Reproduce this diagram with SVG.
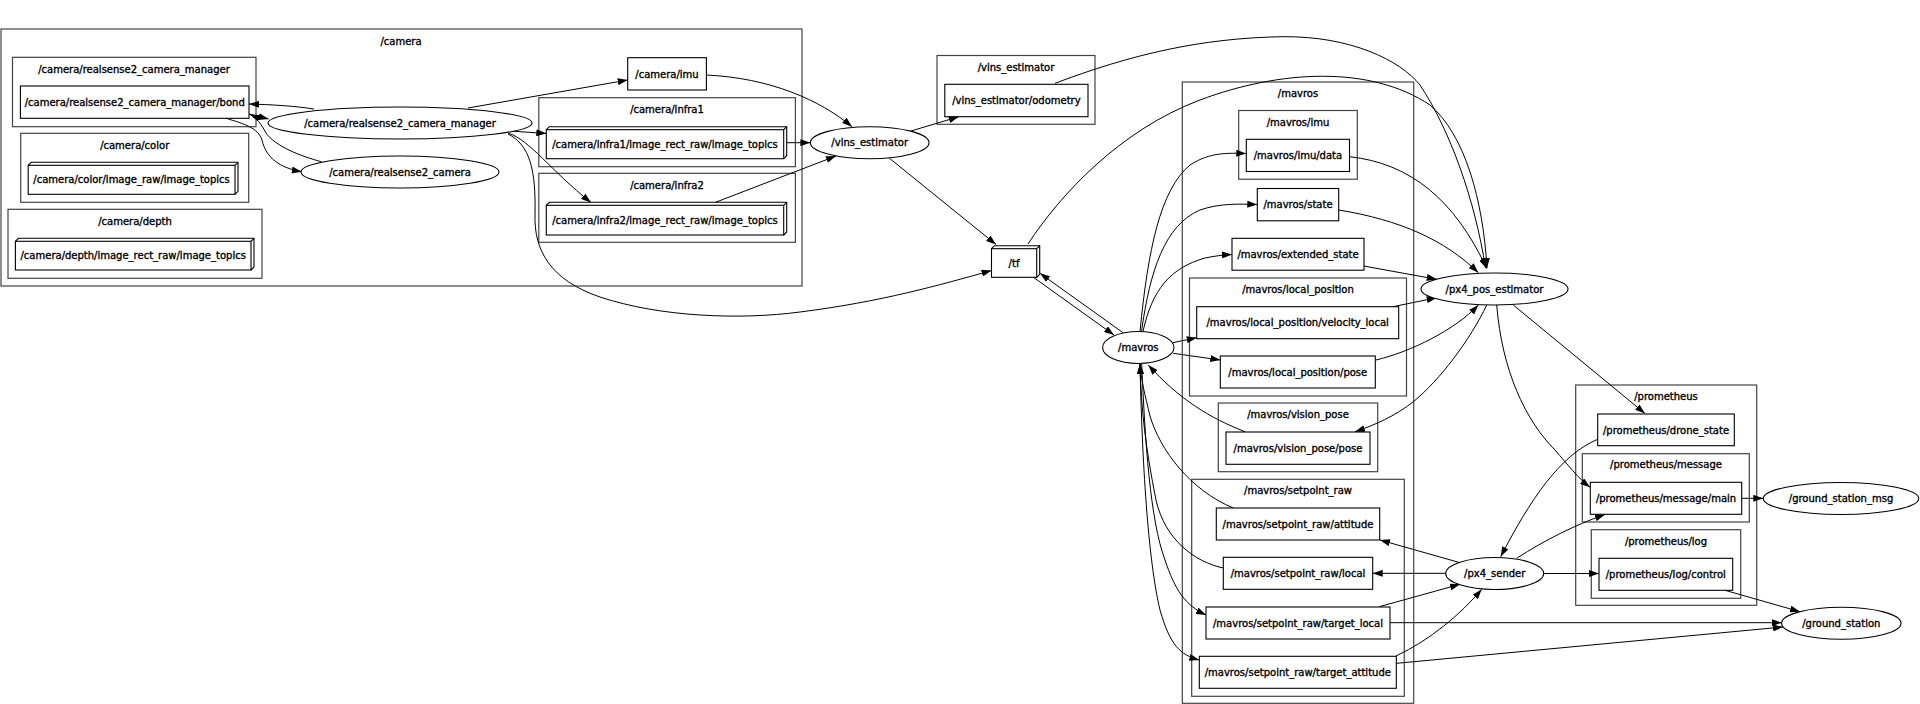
<svg xmlns="http://www.w3.org/2000/svg" width="1920" height="704" viewBox="0 0 1920 704">
<style>
.cl{fill:none;stroke:#444;stroke-width:1.2}
.nd{fill:#fff;stroke:#000;stroke-width:1.1}
.b3{fill:none;stroke:#000;stroke-width:1.1}
text{font-family:"DejaVu Sans",sans-serif;font-size:10px;text-anchor:middle;fill:#000;stroke:#000;stroke-width:0.35}
.e{fill:none;stroke:#000;stroke-width:1;marker-end:url(#a)}
</style>
<defs>
<marker id="a" markerUnits="userSpaceOnUse" markerWidth="10" markerHeight="7" refX="10" refY="3.5" orient="auto"><path d="M0,0 L10,3.5 L0,7 z" fill="#000"/></marker>
</defs>
<rect width="1920" height="704" fill="#fff"/>
<g id="clusters">
<g id="cl_camera"><rect class="cl" x="1" y="29" width="801" height="257"/><text x="401" y="44.5">/camera</text></g>
<g id="cl_manager"><rect class="cl" x="12.5" y="57.3" width="243.5" height="69.4"/><text x="134" y="72.5">/camera/realsense2_camera_manager</text></g>
<g id="cl_color"><rect class="cl" x="20.7" y="133.3" width="228" height="69"/><text x="134.7" y="148.5">/camera/color</text></g>
<g id="cl_depth"><rect class="cl" x="8" y="209.3" width="254" height="69"/><text x="135" y="224.5">/camera/depth</text></g>
<g id="cl_infra1"><rect class="cl" x="538.8" y="97.7" width="256.6" height="69"/><text x="667" y="113">/camera/infra1</text></g>
<g id="cl_infra2"><rect class="cl" x="538.8" y="173.3" width="256.6" height="69"/><text x="667" y="188.5">/camera/infra2</text></g>
<g id="cl_vins"><rect class="cl" x="937" y="55.5" width="158" height="68.8"/><text x="1016" y="70.5">/vins_estimator</text></g>
<g id="cl_mavros"><rect class="cl" x="1182.3" y="82" width="231.4" height="621.3"/><text x="1298" y="96.8">/mavros</text></g>
<g id="cl_mavros_imu"><rect class="cl" x="1238.7" y="110.5" width="118.6" height="68.7"/><text x="1298" y="125.5">/mavros/imu</text></g>
<g id="cl_local_position"><rect class="cl" x="1189.5" y="278" width="217" height="118"/><text x="1298" y="293">/mavros/local_position</text></g>
<g id="cl_vision_pose"><rect class="cl" x="1218.3" y="403" width="159.4" height="68.7"/><text x="1298" y="418">/mavros/vision_pose</text></g>
<g id="cl_setpoint_raw"><rect class="cl" x="1191.7" y="479.3" width="212.6" height="217"/><text x="1298" y="494">/mavros/setpoint_raw</text></g>
<g id="cl_prometheus"><rect class="cl" x="1575.7" y="385" width="181" height="220.3"/><text x="1666" y="400">/prometheus</text></g>
<g id="cl_message"><rect class="cl" x="1582.3" y="453.7" width="167" height="68.3"/><text x="1666" y="468">/prometheus/message</text></g>
<g id="cl_log"><rect class="cl" x="1591.3" y="529.7" width="149.4" height="68.6"/><text x="1666" y="544.5">/prometheus/log</text></g>
</g>
<g id="edges">
<path class="e" d="M314,109 C295,106 270,104.5 249,104"/>
<path class="e" d="M249,114 L268.6,119"/>
<path class="e" d="M321.4,161.7 C300,156 275,146 266,133 C262,125 256,117 250,114.5"/>
<path class="e" d="M225,118 C245,124 258,128 262,140 C266,158 280,168 301.8,171.7"/>
<path class="e" d="M468,108 L627.7,80"/>
<path class="e" d="M510,131 L546.3,133.5"/>
<path class="e" d="M508,133 C530,140 550,170 591,202.5"/>
<path class="e" d="M508,134 C530,145 536,170 535,215 C534,250 550,280 600,297 C660,317 740,320 800,312 C880,302 940,285 991.5,270.5"/>
<path class="e" d="M706.4,75 C770,78 820,100 852,126.7"/>
<path class="e" d="M786.7,142.7 L810.4,142.7"/>
<path class="e" d="M715.5,202.3 L836,156"/>
<path class="e" d="M911,131 L958.7,116.7"/>
<path class="e" d="M889.5,158.3 L996,244.5"/>
<path class="e" d="M1055,83.3 C1130,55 1200,38 1283,36.7 C1350,36 1400,60 1420,85 C1450,130 1475,200 1485.5,268"/>
<path class="e" d="M1028,244 C1060,195 1120,130 1200,100 C1280,70 1370,65 1430,105 C1465,135 1483,200 1487,268"/>
<path class="e" d="M1033,277 L1114,335"/>
<path class="e" d="M1123,332.7 L1040,273.3"/>
<path class="e" d="M1140,331.5 C1148,250 1160,190 1190,165 C1210,152 1228,153 1246.3,153.5"/>
<path class="e" d="M1141.5,331.5 C1150,270 1165,225 1200,210 C1220,203 1240,204 1257.3,204.5"/>
<path class="e" d="M1143,331.5 C1152,290 1170,268 1205,258 C1215,256 1222,255 1232,254.5"/>
<path class="e" d="M1172.7,342.7 L1196.7,337.7"/>
<path class="e" d="M1173.3,353.3 L1220.3,360"/>
<path class="e" d="M1245,431.7 C1210,418 1180,400 1148.3,365"/>
<path class="e" d="M1233.3,508 C1190,490 1160,450 1150,416 C1145,395 1141,380 1140,364"/>
<path class="e" d="M1223.3,568 C1195,562 1165,540 1156,500 C1146,450 1141,410 1140,364"/>
<path class="e" d="M1141.7,364 C1145,440 1150,520 1165,560 C1175,590 1185,605 1206,615"/>
<path class="e" d="M1140,364 C1142,460 1148,560 1160,610 C1170,645 1180,655 1199.3,660"/>
<path class="e" d="M1349.3,156.7 C1410,163 1455,200 1486.7,268.5"/>
<path class="e" d="M1338.7,210 C1400,220 1445,240 1478.3,272.7"/>
<path class="e" d="M1363.7,266 L1436.7,279.3"/>
<path class="e" d="M1393,306.7 L1436.7,297.7"/>
<path class="e" d="M1376,360 C1410,352 1455,330 1478.3,305"/>
<path class="e" d="M1486.7,305 C1470,340 1440,380 1413,402 C1395,416 1375,425 1355,431.7"/>
<path class="e" d="M1513.3,305 L1645,413.5"/>
<path class="e" d="M1496.7,305 C1502,370 1525,420 1555,450 C1568,465 1578,478 1590,487.3"/>
<path class="e" d="M1597.7,439.3 C1560,455 1530,500 1500.7,556.7"/>
<path class="e" d="M1516.7,558.3 C1545,540 1575,525 1605,514.5"/>
<path class="e" d="M1543.7,573.5 L1599,573.5"/>
<path class="e" d="M1460,562.7 L1380,540"/>
<path class="e" d="M1445.7,573.3 L1372.7,573.3"/>
<path class="e" d="M1379.3,606.7 L1460,584.3"/>
<path class="e" d="M1396,656 C1430,640 1460,615 1481.7,589.3"/>
<path class="e" d="M1390,622.7 L1781.7,622.7"/>
<path class="e" d="M1396.7,663.3 L1783,627"/>
<path class="e" d="M1725,590.3 L1800,611.7"/>
<path class="e" d="M1741.7,498.3 L1763.3,498.3"/>
</g>
<g id="nodes">
<g id="n_bond"><rect class="nd" x="20.4" y="86" width="228.6" height="32.3"/><text x="134.7" y="105.5">/camera/realsense2_camera_manager/bond</text></g>
<g id="n_color_topics"><rect class="nd" x="28.2" y="165.3" width="206.8" height="29"/><polyline class="b3" points="28.2,165.3 31.2,162.3 238,162.3 238,191.3 235,194.3"/><line class="b3" x1="235" y1="165.3" x2="238" y2="162.3"/><text x="131.6" y="183">/camera/color/image_raw/image_topics</text></g>
<g id="n_depth_topics"><rect class="nd" x="15.4" y="241.3" width="235.6" height="28.7"/><polyline class="b3" points="15.4,241.3 18.4,238.3 254,238.3 254,267 251,270"/><line class="b3" x1="251" y1="241.3" x2="254" y2="238.3"/><text x="133.2" y="258.8">/camera/depth/image_rect_raw/image_topics</text></g>
<g id="n_manager"><ellipse class="nd" cx="400" cy="123" rx="132" ry="16"/><text x="400" y="126.5">/camera/realsense2_camera_manager</text></g>
<g id="n_realsense2_camera"><ellipse class="nd" cx="400" cy="172" rx="99" ry="16"/><text x="400" y="175.5">/camera/realsense2_camera</text></g>
<g id="n_camera_imu"><rect class="nd" x="627.7" y="57.7" width="78.7" height="32.3"/><text x="667" y="77.5">/camera/imu</text></g>
<g id="n_infra1_topics"><rect class="nd" x="546.3" y="129.7" width="237.4" height="29"/><polyline class="b3" points="546.3,129.7 549.3,126.7 786.7,126.7 786.7,155.7 783.7,158.7"/><line class="b3" x1="783.7" y1="129.7" x2="786.7" y2="126.7"/><text x="665" y="147.5">/camera/infra1/image_rect_raw/image_topics</text></g>
<g id="n_infra2_topics"><rect class="nd" x="546.3" y="205.3" width="237.4" height="29.7"/><polyline class="b3" points="546.3,205.3 549.3,202.3 786.7,202.3 786.7,232 783.7,235"/><line class="b3" x1="783.7" y1="205.3" x2="786.7" y2="202.3"/><text x="665" y="223.5">/camera/infra2/image_rect_raw/image_topics</text></g>
<g id="n_vins_estimator"><ellipse class="nd" cx="869.7" cy="142.7" rx="59.3" ry="16"/><text x="869.7" y="146.2">/vins_estimator</text></g>
<g id="n_odometry"><rect class="nd" x="944.8" y="84.3" width="143.2" height="32.4"/><text x="1016.4" y="104">/vins_estimator/odometry</text></g>
<g id="n_tf"><rect class="nd" x="991.5" y="248.7" width="45.2" height="28.6"/><polyline class="b3" points="991.5,248.7 994.5,245.7 1039.7,245.7 1039.7,274.3 1036.7,277.3"/><line class="b3" x1="1036.7" y1="248.7" x2="1039.7" y2="245.7"/><text x="1014" y="266.5">/tf</text></g>
<g id="n_mavros"><ellipse class="nd" cx="1138.3" cy="347.5" rx="35.7" ry="16"/><text x="1138.3" y="351">/mavros</text></g>
<g id="n_imu_data"><rect class="nd" x="1246.3" y="139.3" width="103.2" height="32.2"/><text x="1297.9" y="159">/mavros/imu/data</text></g>
<g id="n_state"><rect class="nd" x="1257.3" y="188.5" width="81.4" height="32.3"/><text x="1298" y="208.3">/mavros/state</text></g>
<g id="n_extended_state"><rect class="nd" x="1232" y="238.3" width="132" height="31.9"/><text x="1298" y="258">/mavros/extended_state</text></g>
<g id="n_velocity_local"><rect class="nd" x="1196.7" y="306.7" width="202" height="32"/><text x="1297.7" y="326.3">/mavros/local_position/velocity_local</text></g>
<g id="n_lp_pose"><rect class="nd" x="1220.3" y="356" width="155" height="32"/><text x="1297.8" y="375.7">/mavros/local_position/pose</text></g>
<g id="n_vision_pose"><rect class="nd" x="1226" y="432" width="144" height="32.3"/><text x="1298" y="451.8">/mavros/vision_pose/pose</text></g>
<g id="n_sp_attitude"><rect class="nd" x="1216.3" y="508" width="163.4" height="32"/><text x="1298" y="527.7">/mavros/setpoint_raw/attitude</text></g>
<g id="n_sp_local"><rect class="nd" x="1223.3" y="557.3" width="149.4" height="32"/><text x="1298" y="577">/mavros/setpoint_raw/local</text></g>
<g id="n_sp_target_local"><rect class="nd" x="1206" y="607" width="184" height="32"/><text x="1298" y="626.7">/mavros/setpoint_raw/target_local</text></g>
<g id="n_sp_target_attitude"><rect class="nd" x="1199.3" y="656.3" width="197" height="32"/><text x="1297.8" y="676">/mavros/setpoint_raw/target_attitude</text></g>
<g id="n_px4_pos_estimator"><ellipse class="nd" cx="1494.5" cy="289" rx="73.5" ry="16"/><text x="1494.5" y="292.5">/px4_pos_estimator</text></g>
<g id="n_px4_sender"><ellipse class="nd" cx="1494.7" cy="573.5" rx="49" ry="16"/><text x="1494.7" y="577">/px4_sender</text></g>
<g id="n_drone_state"><rect class="nd" x="1597.7" y="414" width="136.6" height="31.7"/><text x="1666" y="433.5">/prometheus/drone_state</text></g>
<g id="n_message_main"><rect class="nd" x="1590.3" y="482.3" width="151.4" height="32"/><text x="1666" y="502">/prometheus/message/main</text></g>
<g id="n_log_control"><rect class="nd" x="1599" y="558.3" width="133.7" height="32"/><text x="1665.8" y="578">/prometheus/log/control</text></g>
<g id="n_ground_station_msg"><ellipse class="nd" cx="1841" cy="498.5" rx="77.7" ry="16"/><text x="1841" y="502">/ground_station_msg</text></g>
<g id="n_ground_station"><ellipse class="nd" cx="1841.3" cy="623.2" rx="59.7" ry="16"/><text x="1841.3" y="626.7">/ground_station</text></g>
</g>
</svg>
